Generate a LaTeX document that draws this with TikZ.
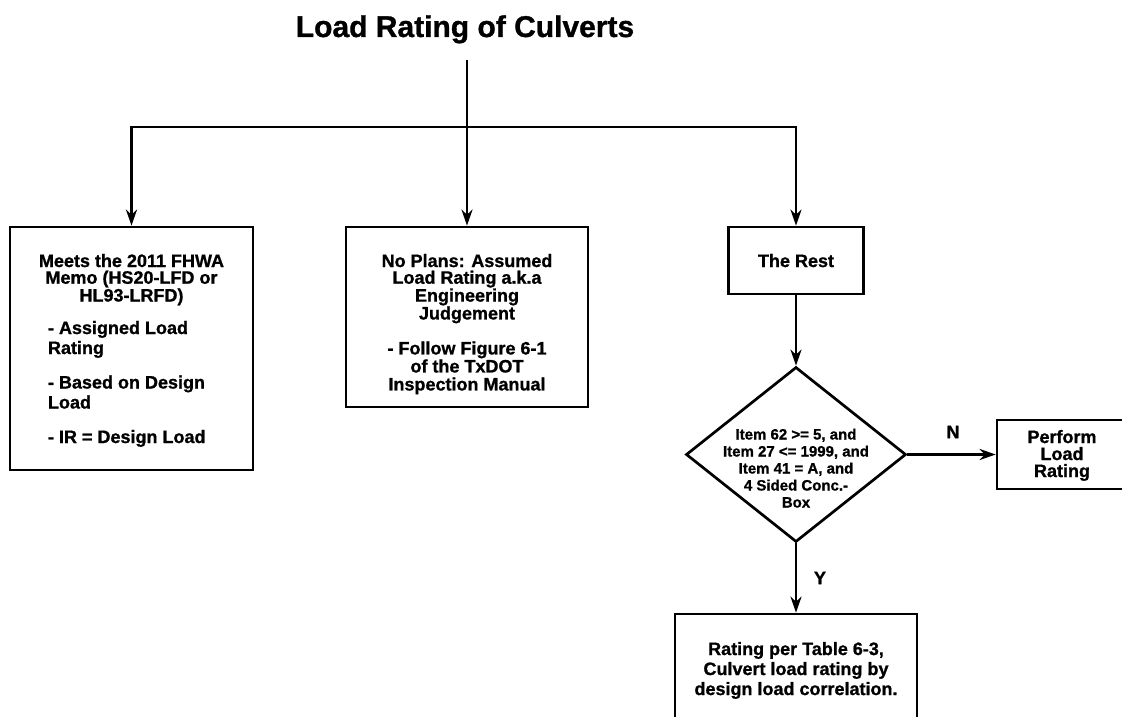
\documentclass[tikz,border=0pt]{standalone}
\usepackage{fontspec}
\setmainfont{Liberation Sans}[BoldFeatures={FakeBold=1}]
\usetikzlibrary{arrows.meta,shapes.geometric}
\newsavebox\mytbsave
\newcommand\mytb[3]{\sbox\mytbsave{\parbox[t]{#2}{#3}}\ht\mytbsave=0pt\dp\mytbsave=0pt\hbox to 0pt{\hss\raise#1\box\mytbsave\hss}}
\newcommand\mytop[4]{\parbox[c][#1][t]{#2}{\vspace*{#3}#4}}
\tikzset{
  ln/.style={line width=2.7pt},
  arr/.style={line width=2.7pt,-{Stealth[length=16pt,width=11pt,inset=5pt]}},
  box/.style={draw,line width=2.7pt,inner sep=0pt,fill=white},
  lab/.style={font=\fontsize{18}{18}\selectfont\bfseries,inner sep=0pt}
}
\begin{document}
\begin{tikzpicture}[x=1pt,y=-1pt,font=\bfseries]
\useasboundingbox (0,0) rectangle (1122,717);
\fill[white] (0,0) rectangle (1122,717);
\clip (0,0) rectangle (1122,717);
\node[anchor=base,font=\fontsize{30}{30}\selectfont\bfseries,inner sep=0pt] (title) at (465,37) {Load Rating of Culverts};
\coordinate (stemtop) at (467,60);
\coordinate (jM) at (467,127);
\node[box,minimum width=243pt] (meets) at (131.5,348.5)
 {\mytop{243pt}{214pt}{27pt}{\fontsize{18}{16.7}\selectfont\centering Meets the 2011 FHWA\\Memo (HS20-LFD or\\HL93-LRFD)\par
 \vspace{-2pt}\setlength\parskip{14.5pt}\fontsize{18}{20}\selectfont\raggedright\leftskip=23.5pt
 - Assigned Load\\Rating\par
 - Based on Design\\Load\par
 - IR = Design Load\par}};
\node[box,minimum width=242pt] (nop) at (467,317)
 {\mytop{180pt}{226pt}{27pt}{\fontsize{18}{16.7}\selectfont\centering No Plans: Assumed\\Load Rating a.k.a\\Engineering\\Judgement\par
 \setlength\parskip{17pt}\fontsize{18}{18}\selectfont - Follow Figure 6-1\\of the TxDOT\\Inspection Manual\par}};
\node[box,minimum width=135pt] (rest) at (796,260.5)
 {\mytop{67pt}{120pt}{27pt}{\fontsize{18}{18}\selectfont\centering The Rest\par}};
\node[box,diamond,minimum width=220pt,minimum height=175pt] (cond) at (796,454.5)
 {\mytb{30pt}{190pt}{\fontsize{15}{17}\selectfont\centering Item 62 >= 5, and\\Item 27 <= 1999, and\\Item 41 = A, and\\4 Sided Conc.-\\Box}};
\node[box,minimum width=130pt] (perf) at (1062,454.5)
 {\mytop{69pt}{120pt}{10pt}{\fontsize{18}{17}\selectfont\centering Perform\\Load\\Rating\par}};
\node[box,minimum width=242pt] (tbl) at (796,668)
 {\mytop{108pt}{236pt}{28pt}{\fontsize{18}{20}\selectfont\centering Rating per Table 6-3,\\Culvert load rating by\\design load correlation.\par}};
\node[lab] (nlab) at (953,432) {N};
\node[lab] (ylab) at (820,578) {Y};
\draw[ln] (stemtop) -- (jM);
\draw[arr] (jM) -- (nop.north);
\draw[arr] (jM) -| (meets.north);
\draw[arr] (jM) -| (rest.north);
\draw[arr] (rest.south) -- (cond.north);
\draw[arr] (cond.east) -- (perf.west);
\draw[arr] (cond.south) -- (tbl.north);
\end{tikzpicture}
\end{document}
